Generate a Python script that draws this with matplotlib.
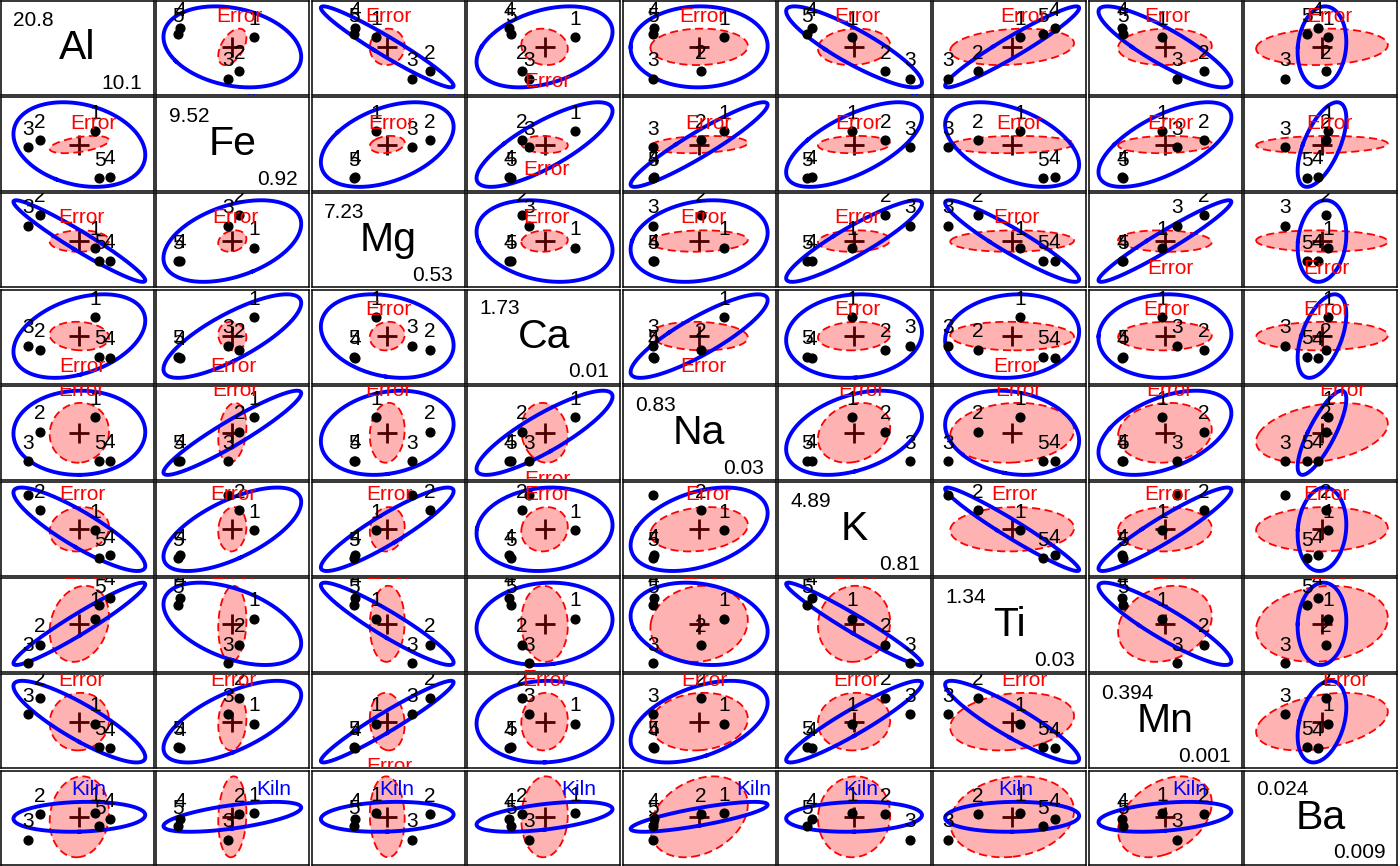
import numpy as np
import matplotlib
matplotlib.use('Agg')
import matplotlib.pyplot as plt

plt.rcParams['font.family'] = ['Liberation Sans', 'DejaVu Sans']

# variables and their ranges (shown on the diagonal)
variables = ['Al', 'Fe', 'Mg', 'Ca', 'Na', 'K', 'Ti', 'Mn', 'Ba']
range_lo = [10.1, 0.92, 0.53, 0.01, 0.03, 0.81, 0.03, 0.001, 0.009]
range_hi = [20.8, 9.52, 7.23, 1.73, 0.83, 4.89, 1.34, 0.394, 0.024]

# kilns and number of pots per kiln
kilns = ['1', '2', '3', '4', '5']
kiln_n = [21, 12, 2, 5, 5]

# kiln means (kiln 1..5)
mean_al = [16.77, 12.59, 11.68, 17.88, 17.11]
mean_fe = [6.51, 5.62, 4.92, 2.00, 1.87]
mean_mg = [3.30, 5.85, 5.02, 2.30, 2.26]
mean_ca = [1.254, 0.606, 0.688, 0.452, 0.474]
mean_na = [0.573, 0.440, 0.168, 0.173, 0.168]
mean_k = [2.78, 3.74, 4.46, 1.62, 1.48]
mean_ti = [0.781, 0.391, 0.112, 1.099, 0.988]
mean_mn = [0.188, 0.304, 0.230, 0.077, 0.080]
mean_ba = [0.01725, 0.01707, 0.01269, 0.01618, 0.01504]

# error (within kiln) standard deviations and correlations
err_sd = [0.896, 0.342, 0.330, 0.113, 0.110, 0.416, 0.229, 0.052, 0.00279]
err_cor = [
    # Al    Fe    Mg    Ca     Na    K     Ti     Mn    Ba
    [1.00, 0.50, 0.05, -0.10, 0.05, 0.10, 0.20, 0.05, 0.10],
    [0.50, 1.00, 0.20, -0.10, 0.20, 0.10, 0.10, 0.10, 0.10],
    [0.05, 0.20, 1.00, 0.10, 0.10, 0.10, 0.05, -0.10, -0.05],
    [-0.10, -0.10, 0.10, 1.00, -0.10, 0.10, -0.05, 0.05, 0.05],
    [0.05, 0.20, 0.10, -0.10, 1.00, 0.20, 0.10, 0.10, 0.30],
    [0.10, 0.10, 0.10, 0.10, 0.20, 1.00, 0.05, 0.05, 0.05],
    [0.20, 0.10, 0.05, -0.05, 0.10, 0.05, 1.00, 0.20, 0.15],
    [0.05, 0.10, -0.10, 0.05, 0.10, 0.05, 0.20, 1.00, 0.35],
    [0.10, 0.10, -0.05, 0.05, 0.30, 0.05, 0.15, 0.35, 1.00],
]

h_scale = 2.33     # size of the Kiln (hypothesis) ellipse
e_radius = 2.5     # size of the Error ellipse

means = np.array([mean_al, mean_fe, mean_mg, mean_ca, mean_na,
                  mean_k, mean_ti, mean_mn, mean_ba]).T   # 5 x 9
n = np.array(kiln_n, dtype=float)
grand = n @ means / n.sum()
dev = means - grand
H = dev.T @ np.diag(n) @ dev / n.sum()
sd = np.array(err_sd)
E = np.array(err_cor) * np.outer(sd, sd)

t = np.linspace(0, 2 * np.pi, 160)
circle = np.vstack([np.cos(t), np.sin(t)])

FS = 15


def ellipse(cx, cy, cov, radius):
    vals, vecs = np.linalg.eigh(cov)
    pts = vecs @ np.diag(np.sqrt(np.clip(vals, 0, None))) @ circle * radius
    return cx + pts[0], cy + pts[1]


def label_ellipse(ax, xs, ys, cov, text, color):
    # label at the top of the ellipse if positively correlated, else below
    if cov[0, 1] >= 0:
        k = np.argmax(ys)
        dy, va = 7, 'baseline'
    else:
        k = np.argmin(ys)
        dy, va = -7, 'top'
    ax.annotate(text, (xs[k], ys[k]), xytext=(0, dy), textcoords='offset pixels',
                ha='center', va=va, color=color, fontsize=FS,
                annotation_clip=False, clip_on=True, zorder=6)


W, Hpx = 1400, 866
fig = plt.figure(figsize=(14, 8.66), dpi=100)
nv = len(variables)
pw, ph = 153.0, 94.0

lims = []
for v in range(nv):
    s = range_hi[v] - range_lo[v]
    lims.append((range_lo[v] - 0.04 * s, range_hi[v] + 0.04 * s))

for i in range(nv):          # row -> y variable
    for j in range(nv):      # column -> x variable
        left = 1 + 155.4 * j
        top = 1 + 96.2 * i
        ax = fig.add_axes([left / W, 1 - (top + ph) / Hpx, pw / W, ph / Hpx])
        ax.set_xticks([])
        ax.set_yticks([])
        for sp in ax.spines.values():
            sp.set_linewidth(1.1)
            sp.set_color('black')
        if i == j:
            ax.set_xlim(0, 1)
            ax.set_ylim(0, 1)
            ax.text(0.5, 0.5, variables[i], ha='center', va='center', fontsize=29.5)
            ax.text(0.08, 0.895, '%.3g' % range_hi[i], ha='left', va='top', fontsize=FS)
            ax.text(0.925, 0.065, '%.3g' % range_lo[i], ha='right', va='baseline', fontsize=FS)
            continue

        ax.set_xlim(*lims[j])
        ax.set_ylim(*lims[i])
        idx = [j, i]
        cx, cy = grand[j], grand[i]

        # centre
        ax.plot(cx, cy, marker='+', color='black', markersize=14.5, mew=2.0, zorder=1)

        # error ellipse
        ce = E[np.ix_(idx, idx)]
        ex, ey = ellipse(cx, cy, ce, e_radius)
        ax.fill(ex, ey, color='red', alpha=0.3, lw=0, zorder=2)
        ax.plot(ex, ey, color='red', lw=1.3, linestyle=(0, (4.5, 2.5)), zorder=3)
        label_ellipse(ax, ex, ey, ce, 'Error', 'red')

        # kiln ellipse
        ch = H[np.ix_(idx, idx)]
        hx, hy = ellipse(cx, cy, ch, h_scale)
        ax.plot(hx, hy, color='blue', lw=2.8, zorder=3)
        label_ellipse(ax, hx, hy, ch, 'Kiln', 'blue')

        # kiln means
        ax.plot(means[:, j], means[:, i], 'o', color='black', markersize=6.3, zorder=4)
        for k, lab in enumerate(kilns):
            ax.annotate(lab, (means[k, j], means[k, i]), xytext=(0, 12.5),
                        textcoords='offset pixels', ha='center', va='baseline',
                        fontsize=FS, annotation_clip=False, clip_on=True, zorder=5)

fig.savefig('out.png', dpi=100)
